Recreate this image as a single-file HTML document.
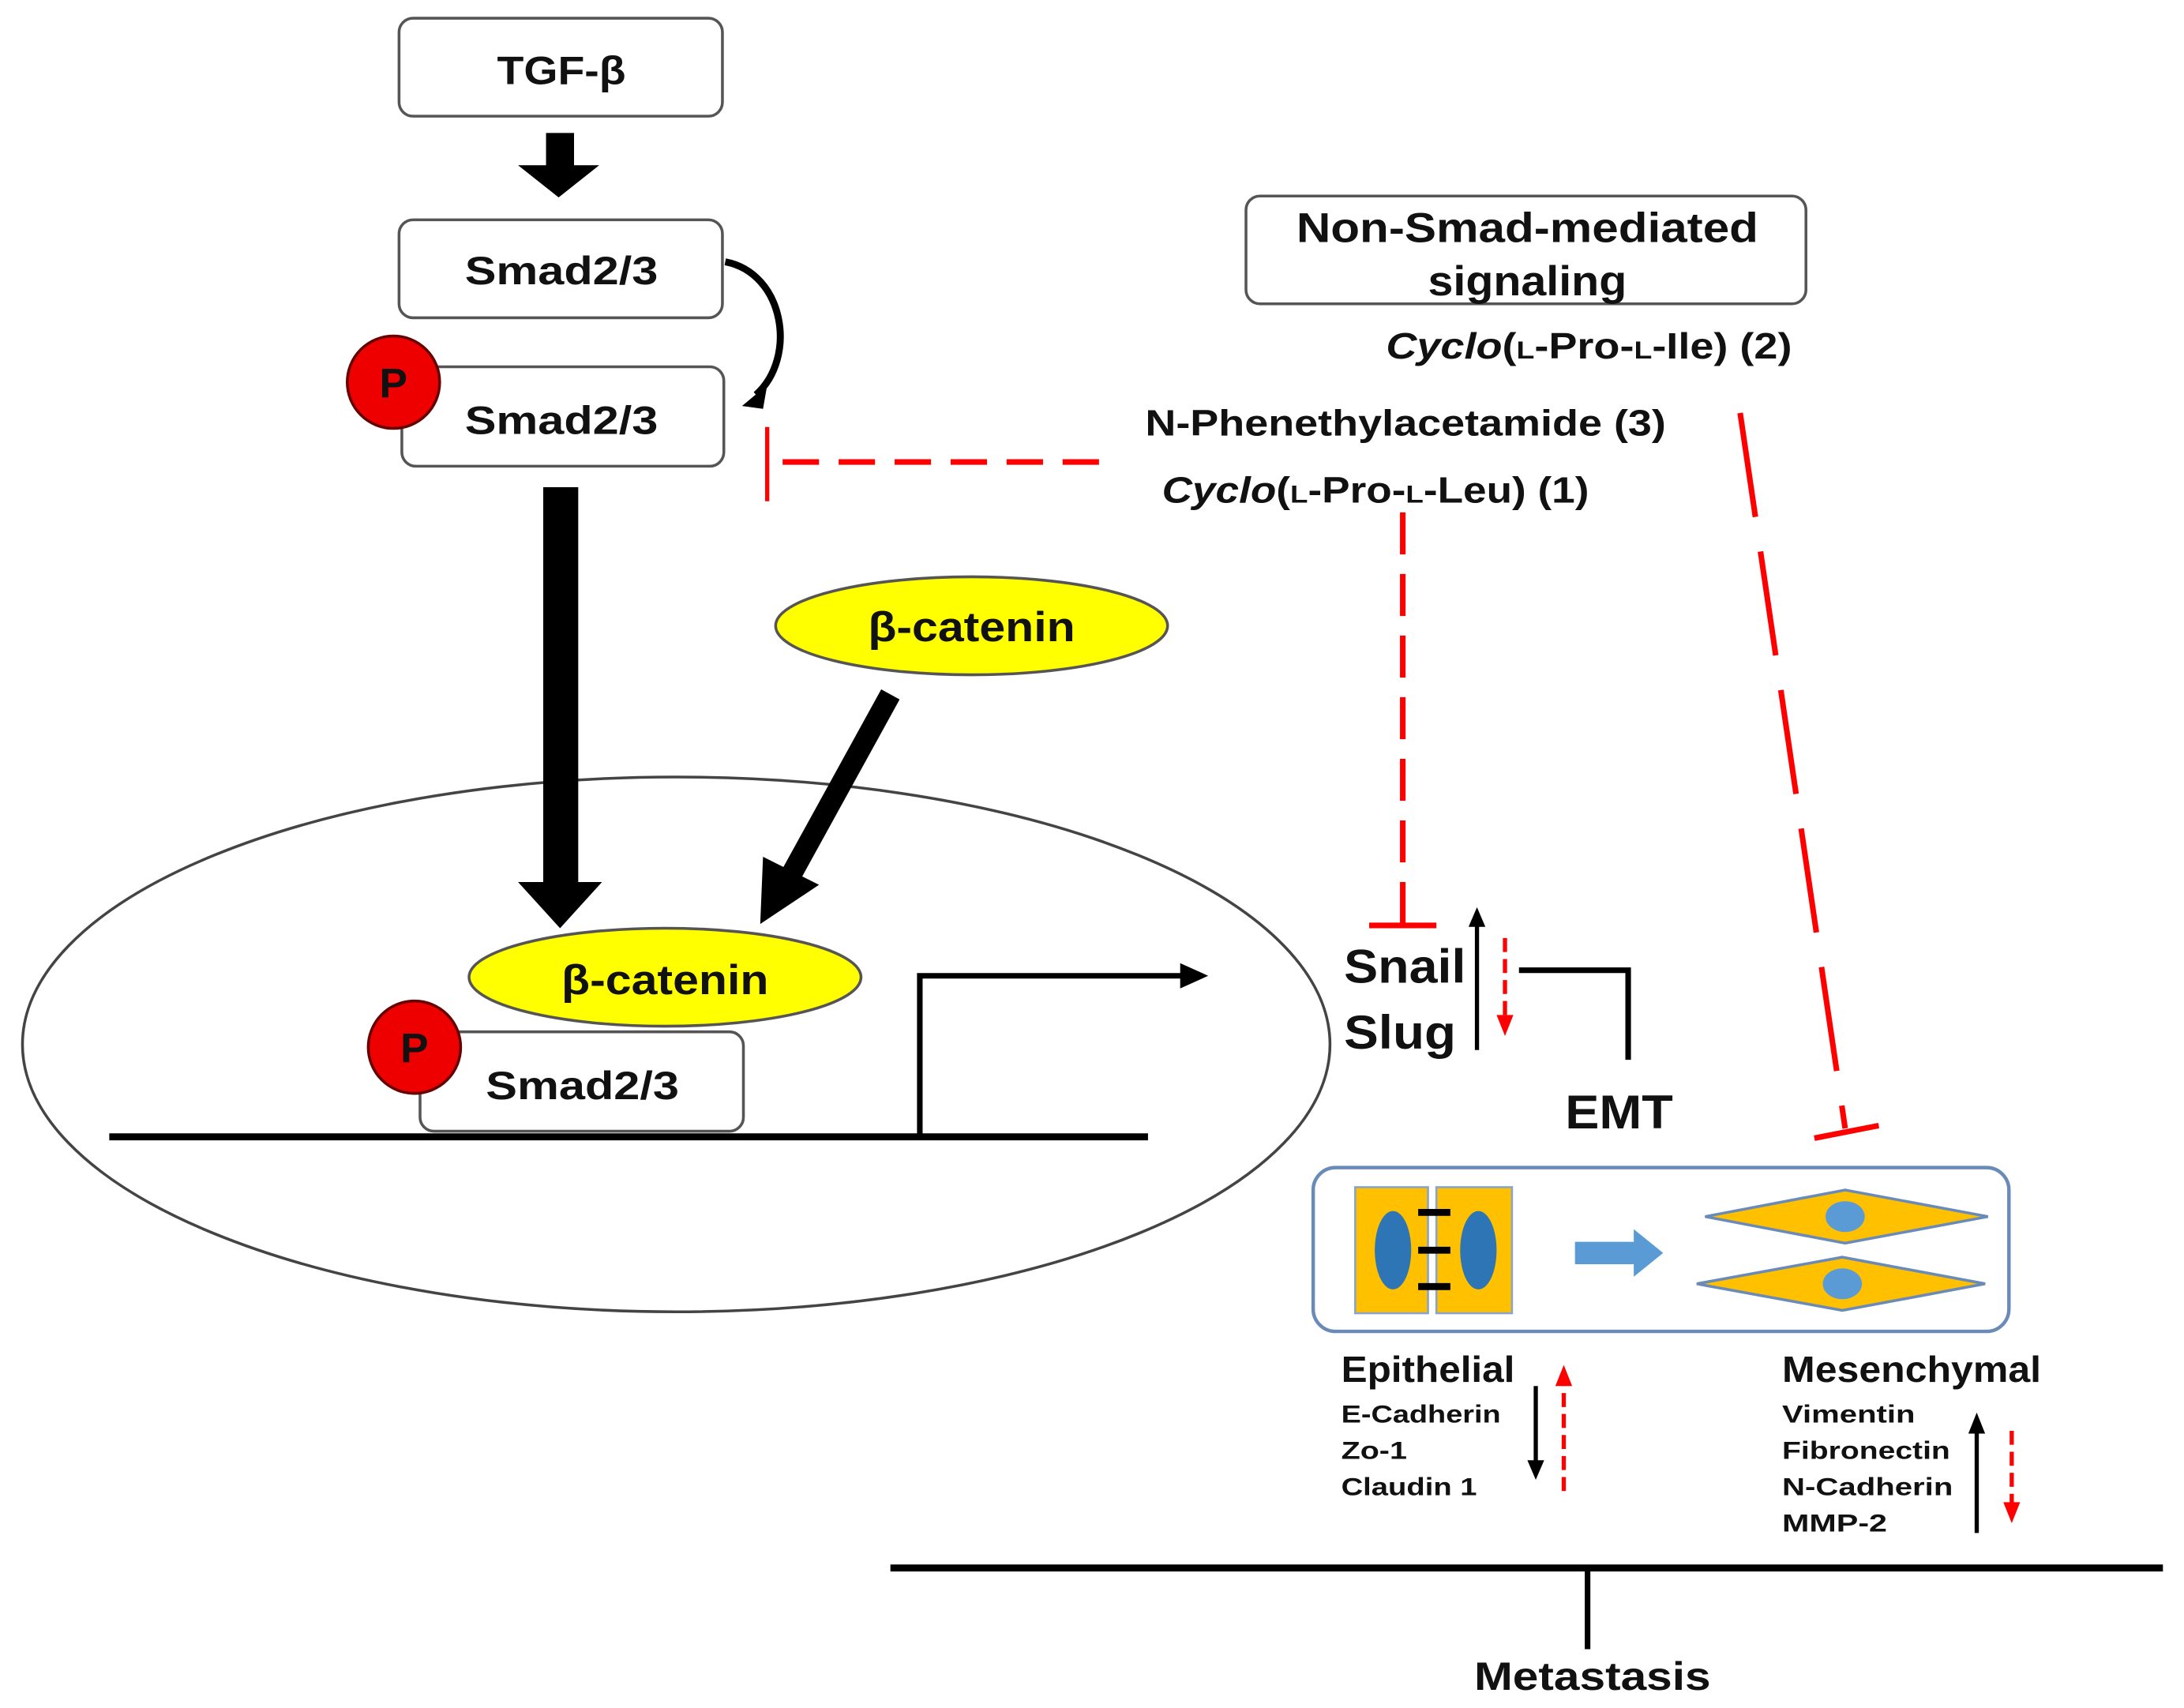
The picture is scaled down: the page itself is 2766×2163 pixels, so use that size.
<!DOCTYPE html>
<html><head><meta charset="utf-8"><style>
html,body{margin:0;padding:0;background:#fff}
svg{display:block}
text{font-family:"Liberation Sans",sans-serif;font-weight:bold;fill:#111}
</style></head><body>
<svg width="2766" height="2163" viewBox="0 0 1560 1220" xmlns="http://www.w3.org/2000/svg">
<rect x="285" y="13" width="231" height="70" rx="10" fill="#fff" stroke="#555" stroke-width="2"/>
<text x="355" y="60" font-size="28" textLength="92" lengthAdjust="spacingAndGlyphs">TGF-β</text>
<polygon points="390,95 410,95 410,118 428,118 399,141 370,118 390,118" fill="#000"/>
<rect x="285" y="157" width="231" height="70" rx="10" fill="#fff" stroke="#555" stroke-width="2"/>
<text x="332" y="203" font-size="28" textLength="138" lengthAdjust="spacingAndGlyphs">Smad2/3</text>
<path d="M518,187 C560,195 570,255 540,282" fill="none" stroke="#000" stroke-width="5"/>
<polygon points="530,290 548,275 545,292" fill="#000"/>
<rect x="287" y="262" width="230" height="71" rx="10" fill="#fff" stroke="#555" stroke-width="2"/>
<circle cx="281" cy="273" r="33" fill="#e00" stroke="#600" stroke-width="2"/>
<text x="281" y="284" font-size="30" text-anchor="middle" font-weight="normal">P</text>
<text x="332" y="310" font-size="28" textLength="138" lengthAdjust="spacingAndGlyphs">Smad2/3</text>
<line x1="785" y1="330" x2="550" y2="330" stroke="#f00" stroke-width="4" stroke-dasharray="26,14"/>
<line x1="548" y1="305" x2="548" y2="358" stroke="#f00" stroke-width="3"/>
<ellipse cx="483" cy="746" rx="467" ry="191" fill="none" stroke="#444" stroke-width="2"/>
<rect x="388" y="348" width="25" height="285" fill="#000"/>
<polygon points="370,630 430,630 400,663" fill="#000"/>
<ellipse cx="694" cy="447" rx="140" ry="35" fill="#ff0" stroke="#555" stroke-width="2"/>
<text x="620" y="458" font-size="30" textLength="148" lengthAdjust="spacingAndGlyphs">β-catenin</text>
<line x1="636" y1="496" x2="565" y2="625" stroke="#000" stroke-width="15"/>
<polygon points="543,660 545,612 585,632" fill="#000"/>
<ellipse cx="475" cy="698" rx="140" ry="35" fill="#ff0" stroke="#555" stroke-width="2"/>
<text x="401" y="710" font-size="30" textLength="148" lengthAdjust="spacingAndGlyphs">β-catenin</text>
<rect x="300" y="737" width="231" height="71" rx="10" fill="#fff" stroke="#555" stroke-width="2"/>
<circle cx="296" cy="748" r="33" fill="#e00" stroke="#600" stroke-width="2"/>
<text x="296" y="759" font-size="30" text-anchor="middle" font-weight="normal">P</text>
<text x="347" y="785" font-size="28" textLength="138" lengthAdjust="spacingAndGlyphs">Smad2/3</text>
<line x1="78" y1="812" x2="820" y2="812" stroke="#000" stroke-width="5"/>
<polyline points="657,812 657,697 845,697" fill="none" stroke="#000" stroke-width="4"/>
<polygon points="843,688 863,697 843,706" fill="#000"/>
<rect x="890" y="140" width="400" height="77" rx="10" fill="#fff" stroke="#555" stroke-width="2"/>
<text x="926" y="173" font-size="30" textLength="330" lengthAdjust="spacingAndGlyphs">Non-Smad-mediated</text>
<text x="1020" y="211" font-size="30" textLength="142" lengthAdjust="spacingAndGlyphs">signaling</text>
<text x="990" y="256" font-size="26" textLength="290" lengthAdjust="spacingAndGlyphs"><tspan font-style="italic">Cyclo</tspan>(<tspan font-size="18">L</tspan>-Pro-<tspan font-size="18">L</tspan>-Ile) (2)</text>
<text x="818" y="311" font-size="26" textLength="372" lengthAdjust="spacingAndGlyphs">N-Phenethylacetamide (3)</text>
<text x="830" y="359" font-size="26" textLength="305" lengthAdjust="spacingAndGlyphs"><tspan font-style="italic">Cyclo</tspan>(<tspan font-size="18">L</tspan>-Pro-<tspan font-size="18">L</tspan>-Leu) (1)</text>
<line x1="1002" y1="366" x2="1002" y2="660" stroke="#f00" stroke-width="4" stroke-dasharray="30,14"/>
<line x1="978" y1="661" x2="1026" y2="661" stroke="#f00" stroke-width="4"/>
<line x1="1243" y1="295" x2="1318" y2="806" stroke="#f00" stroke-width="4" stroke-dasharray="75,25"/>
<line x1="1296" y1="813" x2="1342" y2="804" stroke="#f00" stroke-width="4"/>
<text x="960" y="702" font-size="34" textLength="87" lengthAdjust="spacingAndGlyphs">Snail</text>
<text x="960" y="749" font-size="34" textLength="80" lengthAdjust="spacingAndGlyphs">Slug</text>
<line x1="1055" y1="750" x2="1055" y2="660" stroke="#000" stroke-width="3"/>
<polygon points="1049,662 1061,662 1055,648" fill="#000"/>
<line x1="1075" y1="670" x2="1075" y2="727" stroke="#f00" stroke-width="3" stroke-dasharray="10,5"/>
<polygon points="1069,725 1081,725 1075,740" fill="#f00"/>
<polyline points="1085,693 1163,693 1163,757" fill="none" stroke="#000" stroke-width="4"/>
<text x="1118" y="806" font-size="34" textLength="77" lengthAdjust="spacingAndGlyphs">EMT</text>
<rect x="938" y="834" width="497" height="117" rx="16" fill="#fff" stroke="#6a8ab8" stroke-width="2.5"/>
<rect x="968" y="848" width="52" height="90" fill="#ffc000" stroke="#8ca4c8" stroke-width="1.5"/>
<rect x="1026" y="848" width="54" height="90" fill="#ffc000" stroke="#8ca4c8" stroke-width="1.5"/>
<ellipse cx="995" cy="893" rx="13" ry="28" fill="#2e75b6"/>
<ellipse cx="1056" cy="893" rx="13" ry="28" fill="#2e75b6"/>
<line x1="1013" y1="866" x2="1036" y2="866" stroke="#000" stroke-width="5"/>
<line x1="1013" y1="893" x2="1036" y2="893" stroke="#000" stroke-width="5"/>
<line x1="1013" y1="919" x2="1036" y2="919" stroke="#000" stroke-width="5"/>
<polygon points="1125,887 1167,887 1167,878 1188,895 1167,912 1167,903 1125,903" fill="#5b9bd5"/>
<polygon points="1218,869 1318,850 1420,869 1318,888" fill="#ffc000" stroke="#6a8ab8" stroke-width="2"/>
<ellipse cx="1318" cy="869" rx="14" ry="11" fill="#5b9bd5"/>
<polygon points="1212,917 1316,898 1418,917 1316,936" fill="#ffc000" stroke="#6a8ab8" stroke-width="2"/>
<ellipse cx="1316" cy="917" rx="14" ry="11" fill="#5b9bd5"/>
<text x="958" y="987" font-size="26" textLength="124" lengthAdjust="spacingAndGlyphs">Epithelial</text>
<text x="958" y="1016" font-size="18" textLength="114" lengthAdjust="spacingAndGlyphs">E-Cadherin</text>
<text x="958" y="1042" font-size="18" textLength="47" lengthAdjust="spacingAndGlyphs">Zo-1</text>
<text x="958" y="1068" font-size="18" textLength="97" lengthAdjust="spacingAndGlyphs">Claudin 1</text>
<line x1="1097" y1="990" x2="1097" y2="1045" stroke="#000" stroke-width="3"/>
<polygon points="1091,1043 1103,1043 1097,1057" fill="#000"/>
<line x1="1117" y1="1065" x2="1117" y2="988" stroke="#f00" stroke-width="3" stroke-dasharray="10,5"/>
<polygon points="1111,990 1123,990 1117,975" fill="#f00"/>
<text x="1273" y="987" font-size="26" textLength="185" lengthAdjust="spacingAndGlyphs">Mesenchymal</text>
<text x="1273" y="1016" font-size="18" textLength="95" lengthAdjust="spacingAndGlyphs">Vimentin</text>
<text x="1273" y="1042" font-size="18" textLength="120" lengthAdjust="spacingAndGlyphs">Fibronectin</text>
<text x="1273" y="1068" font-size="18" textLength="122" lengthAdjust="spacingAndGlyphs">N-Cadherin</text>
<text x="1273" y="1094" font-size="18" textLength="75" lengthAdjust="spacingAndGlyphs">MMP-2</text>
<line x1="1412" y1="1095" x2="1412" y2="1022" stroke="#000" stroke-width="3"/>
<polygon points="1406,1024 1418,1024 1412,1009" fill="#000"/>
<line x1="1437" y1="1022" x2="1437" y2="1075" stroke="#f00" stroke-width="3" stroke-dasharray="10,5"/>
<polygon points="1431,1073 1443,1073 1437,1088" fill="#f00"/>
<line x1="636" y1="1120" x2="1545" y2="1120" stroke="#000" stroke-width="5"/>
<line x1="1134" y1="1120" x2="1134" y2="1178" stroke="#000" stroke-width="4"/>
<text x="1053" y="1207" font-size="28" textLength="169" lengthAdjust="spacingAndGlyphs">Metastasis</text>
</svg>
</body></html>
